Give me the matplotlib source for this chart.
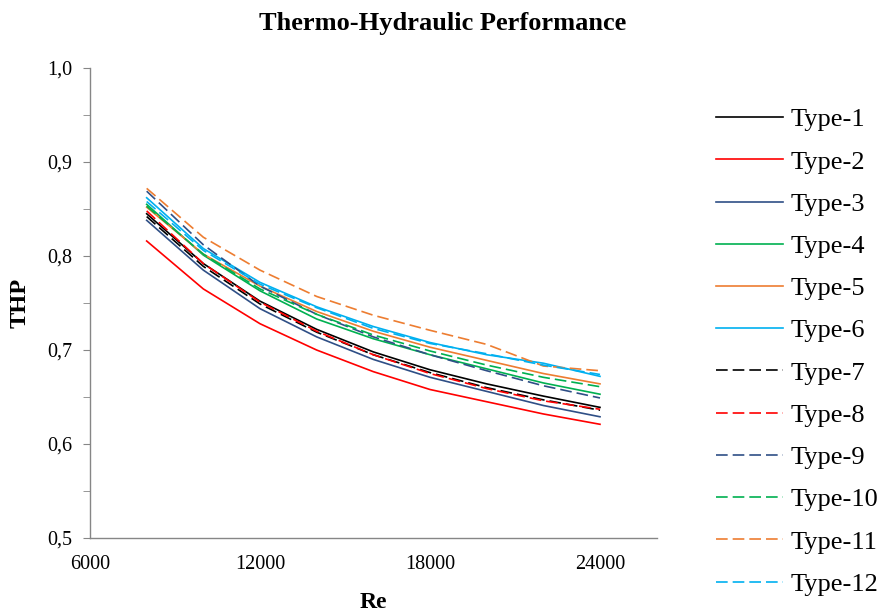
import matplotlib
matplotlib.use("Agg")
import matplotlib.pyplot as plt
from matplotlib.ticker import MultipleLocator, FixedLocator

plt.rcParams['font.family'] = ['Liberation Serif', 'DejaVu Serif']

re_values = [8000, 10000, 12000, 14000, 16000, 18000, 20000, 22000, 24000]

type1 = [0.845, 0.792, 0.752, 0.722, 0.698, 0.679, 0.664, 0.651, 0.639]
type2 = [0.816, 0.765, 0.728, 0.700, 0.677, 0.658, 0.645, 0.632, 0.621]
type3 = [0.838, 0.785, 0.744, 0.714, 0.690, 0.671, 0.656, 0.641, 0.629]
type4 = [0.855, 0.801, 0.763, 0.733, 0.712, 0.695, 0.680, 0.665, 0.653]
type5 = [0.852, 0.802, 0.768, 0.741, 0.720, 0.703, 0.689, 0.675, 0.664]
type6 = [0.862, 0.808, 0.772, 0.746, 0.725, 0.708, 0.695, 0.686, 0.672]
type7 = [0.842, 0.789, 0.749, 0.719, 0.695, 0.676, 0.660, 0.647, 0.636]
type8 = [0.848, 0.792, 0.751, 0.720, 0.695, 0.675, 0.659, 0.646, 0.637]
type9 = [0.869, 0.812, 0.768, 0.738, 0.714, 0.695, 0.678, 0.662, 0.649]
type10 = [0.853, 0.802, 0.765, 0.738, 0.716, 0.699, 0.684, 0.671, 0.661]
type11 = [0.872, 0.820, 0.785, 0.757, 0.737, 0.721, 0.706, 0.683, 0.678]
type12 = [0.858, 0.806, 0.770, 0.745, 0.723, 0.707, 0.696, 0.684, 0.674]

labels = ["Type-%d" % i for i in range(1, 13)]
series = [type1, type2, type3, type4, type5, type6,
          type7, type8, type9, type10, type11, type12]

base_colors = ['#000000', '#FF0000', '#2F4F86', '#00B050', '#ED7D31', '#00B0F0']
colors = base_colors + base_colors
styles = ['-'] * 6 + [(0, (7, 3))] * 6

fig = plt.figure(figsize=(8.85, 6.13), dpi=100)
ax = fig.add_axes([0.1017, 0.1223, 0.6403, 0.7667])

for s, lab, c, ls in zip(series, labels, colors, styles):
    ax.plot(re_values, s, color=c, linestyle=ls, linewidth=1.2, label=lab)

ax.set_xlim(6000, 26000)
ax.set_ylim(0.5, 1.0)
ax.xaxis.set_major_locator(FixedLocator([6000, 12000, 18000, 24000]))
ax.yaxis.set_major_locator(MultipleLocator(0.1))
ax.yaxis.set_minor_locator(MultipleLocator(0.05))
ax.set_yticklabels([("%.1f" % v).replace('.', ',') for v in ax.get_yticks()])

for side in ['top', 'right']:
    ax.spines[side].set_visible(False)
for side in ['left', 'bottom']:
    ax.spines[side].set_color('#868686')
    ax.spines[side].set_linewidth(1.0)

ax.tick_params(axis='y', which='both', direction='out', length=5, color='#868686',
               labelsize=14.5, pad=8)
ax.tick_params(axis='x', which='both', length=0, labelsize=14.5, pad=12)

ax.set_xlabel('Re', fontsize=17, fontweight='bold', labelpad=13)
ax.set_ylabel('THP', fontsize=17.5, fontweight='bold', labelpad=12)
fig.text(0.5, 0.962, 'Thermo-Hydraulic Performance', ha='center', va='center',
         fontsize=19, fontweight='bold')

leg = fig.legend(loc='center left', bbox_to_anchor=(0.782, 0.426), frameon=False,
                 fontsize=19, handlelength=2.55, handletextpad=0.3,
                 labelspacing=0.71)

fig.savefig('out.png', dpi=100)
